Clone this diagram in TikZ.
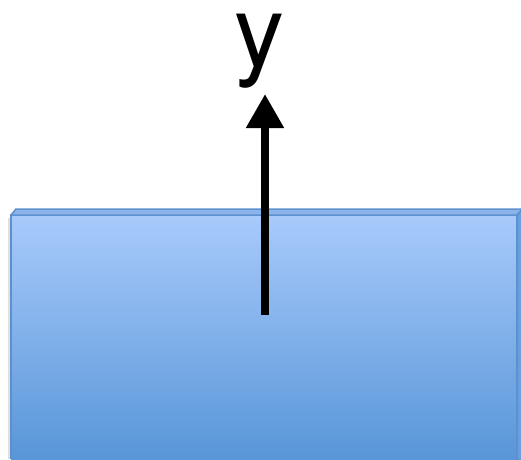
\documentclass[tikz,border=0pt]{standalone}
\usepackage{fontspec}
\setmainfont{TeX Gyre Heros}
\usetikzlibrary{arrows.meta}
\definecolor{slabtop}{RGB}{168,202,251}
\definecolor{slabbot}{RGB}{88,150,216}
\definecolor{slabedge}{RGB}{92,144,206}
\definecolor{slabside}{RGB}{140,180,235}
\tikzset{
  slabline/.style={draw=slabedge, line width=1.5pt, line join=round},
  axisarrow/.style={line width=8pt, -{Triangle[width=36pt,length=34pt]}},
  axislabel/.style={font=\fontsize{100}{102}\selectfont, inner sep=0pt}
}
\begin{document}
\begin{tikzpicture}[x=1pt,y=-1pt]
\useasboundingbox (0,0) rectangle (521,459);
% shadow
\fill[black!12] (8,218) rectangle (11,459);
% front face
\shade[top color=slabtop, bottom color=slabbot] (11,215) rectangle (517,459);
\draw[slabline] (11,459) -- (11,215) -- (517,215) -- (517,459);
% top face
\filldraw[slabline, fill=slabside] (11,215) -- (16,209) -- (523,209) -- (517,215) -- cycle;
% right face
\filldraw[slabline, fill=slabbot!80!slabtop] (517,215) -- (523,209) -- (523,460) -- (517,460) -- cycle;
% arrow
\coordinate (start) at (265,315);
\coordinate (tip) at (265,94);
\draw[axisarrow] (start) -- (tip);
\node[axislabel, anchor=south] (ylab) at (259,88) {y};
\end{tikzpicture}
\end{document}
